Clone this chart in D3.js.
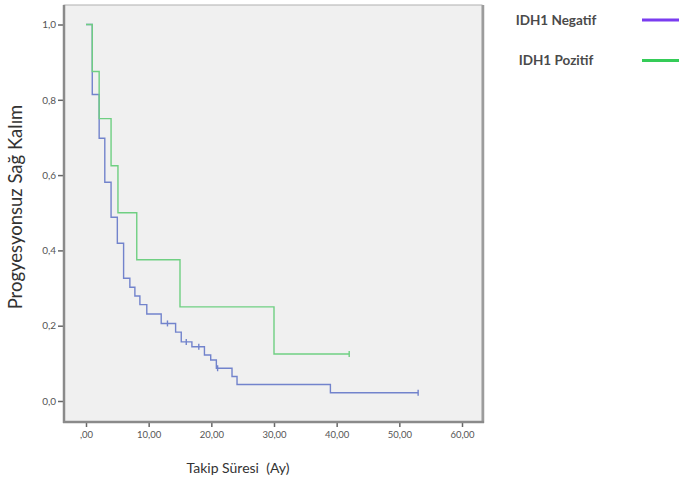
<!DOCTYPE html>
<html>
<head>
<meta charset="utf-8">
<script src="https://cdn.jsdelivr.net/npm/d3@7/dist/d3.min.js"></script>
<style>
  body { margin: 0; background: #fff; }
  svg { display: block; }
</style>
</head>
<body>
<svg id="chart" width="679" height="481"></svg>
<script>
// ---- data ----
const seriesNames = ["IDH1 Negatif", "IDH1 Pozitif"];
// step events: time (months) and survival after the drop
const negTimes = [0, 1, 2.1, 3, 4, 5, 6, 7, 7.8, 8.6, 9.7, 12, 14.3, 15.2, 16.9, 18.9, 19.9, 20.8, 23.3, 24.1, 39, 53];
const negSurv  = [1, 0.814, 0.698, 0.581, 0.488, 0.419, 0.326, 0.302, 0.279, 0.256, 0.231, 0.206, 0.183, 0.157, 0.144, 0.122, 0.109, 0.087, 0.065, 0.044, 0.022, 0.022];
const negCensorTimes = [13, 16, 18, 21, 53];
const negCensorSurv  = [0.206, 0.157, 0.144, 0.087, 0.022];
const posTimes = [0, 1, 2.1, 4, 5.1, 8.1, 15, 30, 42];
const posSurv  = [1, 0.875, 0.75, 0.625, 0.5, 0.375, 0.25, 0.125, 0.125];
const posCensorTimes = [42];
const posCensorSurv  = [0.125];
const xTicks = [0, 10, 20, 30, 40, 50, 60];
const xTickLabels = [",00", "10,00", "20,00", "30,00", "40,00", "50,00", "60,00"];
const yTicks = [0, 0.2, 0.4, 0.6, 0.8, 1.0];
const yTickLabels = ["0,0", "0,2", "0,4", "0,6", "0,8", "1,0"];

// ---- drawing ----
const svg = d3.select("#chart");
const frame = {left: 64, right: 482, top: 5, bottom: 422};
const x = d3.scaleLinear().domain([0, 60]).range([86, 462]);
const y = d3.scaleLinear().domain([0, 1]).range([401, 24.5]);
const font = "Lato, 'Open Sans', sans-serif";

const lineColors = ["#7283cc", "#6fcf82"];
const legendColors = ["#7a3cf0", "#35cc58"];

svg.append("rect")
  .attr("x", frame.left).attr("y", frame.top)
  .attr("width", frame.right - frame.left).attr("height", frame.bottom - frame.top)
  .attr("fill", "#f0f0f0").attr("stroke", "#b0b0b0").attr("stroke-width", 1);
svg.append("line").attr("x1", frame.right + 1).attr("x2", frame.right + 1)
  .attr("y1", frame.top).attr("y2", frame.bottom + 1)
  .attr("stroke", "#9c9c9c").attr("stroke-width", 2.5);

// axes
const xAxis = d3.axisBottom(x).tickValues(xTicks)
  .tickFormat((d, i) => xTickLabels[i]).tickSizeOuter(0).tickSize(5).tickPadding(4);
const gx = svg.append("g").attr("transform", `translate(0,${frame.bottom})`).call(xAxis);
gx.select(".domain").remove();
gx.append("line").attr("x1", frame.left - 1).attr("x2", frame.right + 2)
  .attr("y1", 0).attr("y2", 0).attr("stroke", "#8a8a8a").attr("stroke-width", 2.5);
gx.selectAll(".tick line").attr("stroke", "#666").attr("stroke-width", 1.5);
gx.selectAll(".tick text").attr("fill", "#555").attr("font-size", "9.5px")
  .attr("font-family", font);

const yAxis = d3.axisLeft(y).tickValues(yTicks)
  .tickFormat((d, i) => yTickLabels[i]).tickSizeOuter(0).tickSize(6).tickPadding(2);
const gy = svg.append("g").attr("transform", `translate(${frame.left},0)`).call(yAxis);
gy.select(".domain").remove();
gy.append("line").attr("x1", 0).attr("x2", 0)
  .attr("y1", frame.top).attr("y2", frame.bottom + 1)
  .attr("stroke", "#8a8a8a").attr("stroke-width", 2.5);
gy.selectAll(".tick line").attr("stroke", "#666").attr("stroke-width", 1.5);
gy.selectAll(".tick text").attr("fill", "#555").attr("font-size", "10px")
  .attr("font-family", font);

// curves
const stepLine = d3.line().x(d => x(d[0])).y(d => y(d[1])).curve(d3.curveStepAfter);
const series = [
  {times: negTimes, surv: negSurv, ct: negCensorTimes, cs: negCensorSurv},
  {times: posTimes, surv: posSurv, ct: posCensorTimes, cs: posCensorSurv}
];
series.forEach((s, i) => {
  const pts = s.times.map((t, j) => [t, s.surv[j]]);
  svg.append("path").attr("d", stepLine(pts))
    .attr("fill", "none").attr("stroke", lineColors[i]).attr("stroke-width", 1.4);
  s.ct.forEach((t, j) => {
    svg.append("line")
      .attr("x1", x(t)).attr("x2", x(t))
      .attr("y1", y(s.cs[j]) - 3).attr("y2", y(s.cs[j]) + 3)
      .attr("stroke", lineColors[i]).attr("stroke-width", 1.4);
  });
});

// axis titles
svg.append("text").attr("x", 238).attr("y", 473).attr("text-anchor", "middle")
  .attr("font-family", font).attr("font-size", "14px")
  .attr("fill", "#333").style("white-space", "pre")
  .text("Takip Süresi  (Ay)");
svg.append("text").attr("transform", "translate(22,207) rotate(-90)")
  .attr("text-anchor", "middle")
  .attr("font-family", font).attr("font-size", "18.5px")
  .attr("fill", "#333").text("Progyesyonsuz Sağ Kalım");

// legend
seriesNames.forEach((name, i) => {
  const ly = 20 + i * 40.5;
  svg.append("text").attr("x", 556).attr("y", ly + 4.5).attr("text-anchor", "middle")
    .attr("font-family", font).attr("font-size", "13.5px")
    .attr("font-weight", "bold").attr("fill", "#4a4a4a").text(name);
  svg.append("line").attr("x1", 642).attr("x2", 679).attr("y1", ly).attr("y2", ly)
    .attr("stroke", legendColors[i]).attr("stroke-width", 3);
});
</script>
</body>
</html>
